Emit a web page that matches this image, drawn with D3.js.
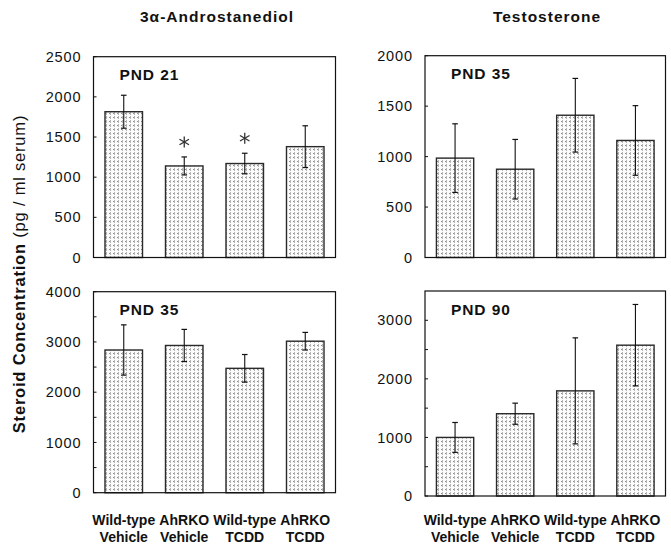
<!DOCTYPE html>
<html>
<head>
<meta charset="utf-8">
<script src="https://cdn.jsdelivr.net/npm/d3@7"></script>
<style>
  html, body { margin: 0; padding: 0; background: #fff; }
  svg { display: block; font-family: "Liberation Sans", Arial, Helvetica, sans-serif; }
</style>
</head>
<body>
<svg id="chart" width="671" height="548"></svg>
<script>
// Treatment groups (two-line labels under each column of panels)
const groupsLine1 = ["Wild-type", "AhRKO", "Wild-type", "AhRKO"];
const groupsLine2 = ["Vehicle", "Vehicle", "TCDD", "TCDD"];
const groups = ["WT-Veh", "KO-Veh", "WT-TCDD", "KO-TCDD"];

// 3α-Androstanediol, PND 21 (pg/ml serum): means and SE
const andro21Mean = [1815, 1140, 1170, 1380];
const andro21Err  = [205, 112, 128, 260];
const andro21Star = [false, true, true, false];
const andro21Ticks = [0, 500, 1000, 1500, 2000, 2500];

// 3α-Androstanediol, PND 35
const andro35Mean = [2840, 2930, 2475, 3015];
const andro35Err  = [500, 320, 275, 175];
const andro35Star = [false, false, false, false];
const andro35Ticks = [0, 1000, 2000, 3000, 4000];

// Testosterone, PND 35
const testo35Mean = [985, 875, 1410, 1160];
const testo35Err  = [340, 295, 365, 345];
const testo35Star = [false, false, false, false];
const testo35Ticks = [0, 500, 1000, 1500, 2000];

// Testosterone, PND 90
const testo90Mean = [1000, 1405, 1795, 2575];
const testo90Err  = [255, 180, 905, 695];
const testo90Star = [false, false, false, false];
const testo90Ticks = [0, 1000, 2000, 3000];

const svg = d3.select("#chart");

// stippled fill for the bars
const defs = svg.append("defs");
const pat = defs.append("pattern")
  .attr("id", "stipple")
  .attr("patternUnits", "userSpaceOnUse")
  .attr("width", 4).attr("height", 4);
pat.append("rect").attr("width", 4).attr("height", 4).attr("fill", "#fbfbfb");
pat.append("rect").attr("x", 1).attr("y", 1).attr("width", 2).attr("height", 1).attr("fill", "#8c8c8c");
pat.append("rect").attr("x", 2).attr("y", 0).attr("width", 1).attr("height", 3).attr("fill", "#b4b4b4");

const panels = [
  { label: "PND 21", mean: andro21Mean, err: andro21Err, star: andro21Star, ticks: andro21Ticks,
    max: 2500, minor: [], x0: 93.5, x1: 335.5, y0: 56.7, y1: 257.5 },
  { label: "PND 35", mean: testo35Mean, err: testo35Err, star: testo35Star, ticks: testo35Ticks,
    max: 2000, minor: [], x0: 425, x1: 665.5, y0: 55.7, y1: 257.5 },
  { label: "PND 35", mean: andro35Mean, err: andro35Err, star: andro35Star, ticks: andro35Ticks,
    max: 4000, minor: [500, 1500, 2500, 3500], x0: 93.5, x1: 335.5, y0: 291.7, y1: 492.7,
    groupLabels: true },
  { label: "PND 90", mean: testo90Mean, err: testo90Err, star: testo90Star, ticks: testo90Ticks,
    max: 3500, minor: [500, 1500, 2500], x0: 425, x1: 665.5, y0: 291, y1: 496,
    groupLabels: true }
];

panels.forEach(p => {
  const x = d3.scaleBand().domain(groups).range([p.x0, p.x1]).paddingInner(0.38).paddingOuter(0.19);
  const y = d3.scaleLinear().domain([0, p.max]).range([p.y1, p.y0]);
  const g = svg.append("g");

  // bars
  g.selectAll("rect.bar").data(p.mean).enter().append("rect")
    .attr("class", "bar")
    .attr("x", (d, i) => x(groups[i]))
    .attr("width", x.bandwidth())
    .attr("y", d => y(d))
    .attr("height", d => y(0) - y(d))
    .attr("fill", "url(#stipple)")
    .attr("stroke", "#2a2a2a")
    .attr("stroke-width", 1.4);

  // error bars
  const cx = i => x(groups[i]) + x.bandwidth() / 2;
  p.mean.forEach((m, i) => {
    const e = p.err[i];
    g.append("line").attr("x1", cx(i)).attr("x2", cx(i))
      .attr("y1", y(m + e)).attr("y2", y(m - e))
      .attr("stroke", "#111").attr("stroke-width", 1.1);
    [m + e, m - e].forEach(v => {
      g.append("line").attr("x1", cx(i) - 2.8).attr("x2", cx(i) + 2.8)
        .attr("y1", y(v)).attr("y2", y(v))
        .attr("stroke", "#111").attr("stroke-width", 1.2);
    });
    if (p.star[i]) {
      // six-armed significance asterisk above the error bar
      const sx = cx(i), sy = y(m + e) - 15, r = 5.5;
      const star = g.append("g").attr("stroke", "#333").attr("stroke-width", 1.3);
      [90, 30, 150].forEach(a => {
        const rad = a * Math.PI / 180;
        star.append("line")
          .attr("x1", sx - r * Math.cos(rad)).attr("y1", sy - r * Math.sin(rad))
          .attr("x2", sx + r * Math.cos(rad)).attr("y2", sy + r * Math.sin(rad));
      });
    }
  });

  // frame
  g.append("rect").attr("x", p.x0).attr("y", p.y0)
    .attr("width", p.x1 - p.x0).attr("height", p.y1 - p.y0)
    .attr("fill", "none").attr("stroke", "#111").attr("stroke-width", 1.2);

  // y axis
  const axis = d3.axisLeft(y).tickValues(p.ticks).tickSize(0).tickPadding(12)
    .tickFormat(d3.format("d"));
  const ag = g.append("g").attr("transform", `translate(${p.x0},0)`).call(axis);
  ag.select(".domain").remove();
  ag.selectAll("text").attr("font-size", 14.5).attr("letter-spacing", "0.9px")
    .attr("fill", "#111").attr("font-family", "'Liberation Sans', Arial, sans-serif");

  // small inward ticks
  g.selectAll("line.tick").data(p.ticks.concat(p.minor)).enter().append("line")
    .attr("x1", p.x0).attr("x2", p.x0 + 3)
    .attr("y1", d => y(d)).attr("y2", d => y(d))
    .attr("stroke", "#111").attr("stroke-width", 1);

  // panel label
  g.append("text").attr("x", p.x0 + 26).attr("y", p.y0 + 23.5)
    .attr("font-size", 15.5).attr("font-weight", "bold").attr("letter-spacing", "0.9px")
    .attr("fill", "#111").text(p.label);

  // group labels under bottom panels, centred on the bars
  if (p.groupLabels) {
    groups.forEach((gname, i) => {
      const t = svg.append("text").attr("text-anchor", "middle")
        .attr("font-size", 14).attr("font-weight", "bold").attr("fill", "#111");
      t.append("tspan").attr("x", cx(i)).attr("y", 525).text(groupsLine1[i]);
      t.append("tspan").attr("x", cx(i)).attr("y", 542).text(groupsLine2[i]);
    });
  }
});

// column titles
svg.append("text").attr("x", 217).attr("y", 22).attr("text-anchor", "middle")
  .attr("font-size", 15.5).attr("font-weight", "bold").attr("letter-spacing", "1px")
  .attr("fill", "#111").text("3α-Androstanediol");
svg.append("text").attr("x", 547).attr("y", 22).attr("text-anchor", "middle")
  .attr("font-size", 15.5).attr("font-weight", "bold").attr("letter-spacing", "1px")
  .attr("fill", "#111").text("Testosterone");

// shared y-axis title
const yt = svg.append("text")
  .attr("transform", "translate(25,274) rotate(-90)")
  .attr("text-anchor", "middle").attr("font-size", 16.5).attr("fill", "#111")
  .attr("letter-spacing", "0.8px");
yt.append("tspan").attr("font-weight", "bold").text("Steroid Concentration ");
yt.append("tspan").text("(pg / ml serum)");
</script>
</body>
</html>
